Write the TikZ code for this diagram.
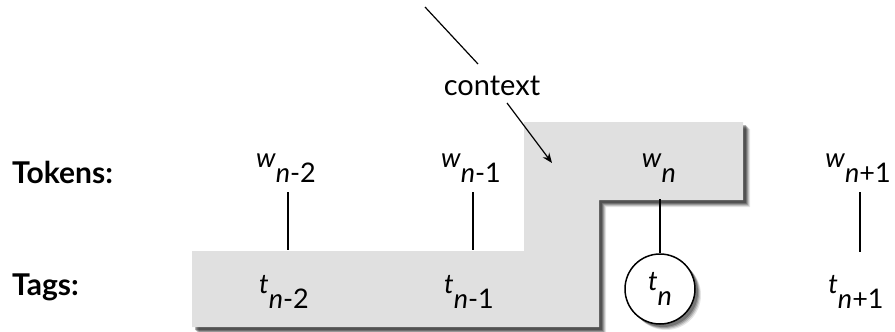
\documentclass[tikz,border=0pt]{standalone}
\usepackage{fontspec}
\setmainfont{Lato}
\usetikzlibrary{arrows.meta}
\definecolor{boxgray}{RGB}{224,224,224}
\newcommand\lblx[2]{\textit{#1}\raisebox{-0.55em}{\textit{n}#2}}
\begin{document}
\begin{tikzpicture}[x=1pt,y=-1pt,
  lab/.style={font=\fontsize{27}{32}\selectfont, inner sep=0pt},
  head/.style={font=\fontsize{30}{36}\selectfont\bfseries, inner sep=0pt, anchor=west},
  conn/.style={line width=1.5pt},
  tagcircle/.style={circle, draw, line width=1.5pt, fill=white, minimum size=70pt, inner sep=0pt}]
\useasboundingbox (0,0) rectangle (895,332);
% shadow of gray region
\foreach \o/\op in {7/0.10,6/0.15,5/0.2,4/0.25,3/0.3}{
  \fill[black, opacity=\op, shift={(\o,\o)}] (192,251) -- (524,251) -- (524,122) -- (743,122) -- (743,200) -- (599,200) -- (599,327) -- (192,327) -- cycle;
}
\fill[boxgray] (192,251) -- (524,251) -- (524,122) -- (743,122) -- (743,200) -- (599,200) -- (599,327) -- (192,327) -- cycle;
% circle shadow
\foreach \o/\op in {6/0.10,5/0.15,4/0.2,3/0.25}{
  \fill[black, opacity=\op] (660+\o,289+\o) circle (35);
}
% headers
\node[head] (tok) at (12,172) {Tokens:};
\node[head] (tag) at (12,287) {Tags:};
% tokens
\node[lab] (w2) at (286,168) {\lblx{w}{-2}};
\node[lab] (w1) at (471,168) {\lblx{w}{-1}};
\node[lab] (w0) at (659,168) {\lblx{w}{}};
\node[lab] (wp) at (858,168) {\lblx{w}{+1}};
% tags
\node[lab] (t2) at (284,292) {\lblx{t}{-2}};
\node[lab] (t1) at (469,292) {\lblx{t}{-1}};
\node[tagcircle] (t0) at (660,289) {};
\node[lab] at (t0.center) {\lblx{t}{}};
\node[lab] (tp) at (856,292) {\lblx{t}{+1}};
% connectors
\coordinate (a2) at (288,192); \coordinate (b2) at (288,250);
\coordinate (a1) at (473,192); \coordinate (b1) at (473,250);
\coordinate (a0) at (660,199);
\coordinate (ap) at (860,192); \coordinate (bp) at (860,252);
\draw[conn] (a2) -- (b2);
\draw[conn] (a1) -- (b1);
\draw[conn] (a0) -- (t0.north);
\draw[conn] (ap) -- (bp);
% context
\node[font=\fontsize{29}{34}\selectfont, inner sep=0pt] (ctx) at (492,86) {context};
\coordinate (c1) at (425,7);
\coordinate (c2) at (478,64);
\coordinate (c3) at (507,103);
\coordinate (c4) at (552,163);
\draw[line width=1.2pt] (c1) -- (c2);
\draw[line width=1.2pt, -{Stealth[length=10pt,width=8pt]}] (c3) -- (c4);
\end{tikzpicture}
\end{document}
